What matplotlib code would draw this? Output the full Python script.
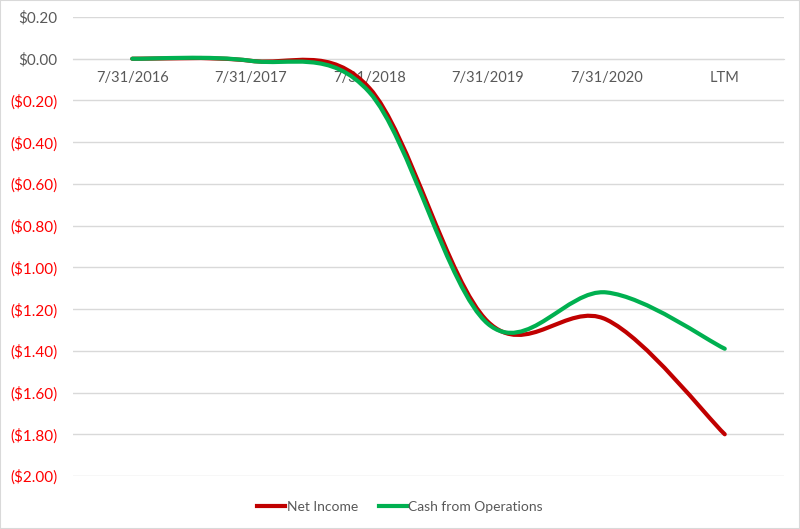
import matplotlib
matplotlib.use("Agg")
import matplotlib.pyplot as plt
from matplotlib.path import Path
from matplotlib.patches import PathPatch, Rectangle
from matplotlib.lines import Line2D
from matplotlib.ticker import FuncFormatter

plt.rcParams['font.family'] = ['Lato', 'DejaVu Sans']

periods = ["7/31/2016", "7/31/2017", "7/31/2018", "7/31/2019", "7/31/2020", "LTM"]
net_income = [0.00, -0.01, -0.14, -1.26, -1.25, -1.80]
cash_ops = [0.00, -0.01, -0.16, -1.27, -1.12, -1.39]
yticks = [0.2, 0.0, -0.2, -0.4, -0.6, -0.8, -1.0, -1.2, -1.4, -1.6, -1.8, -2.0]

RED = "#C00000"
GREEN = "#00B050"
TXT = "#595959"


def smooth_path(xs, ys):
    # Excel-like smoothed line: cubic bezier, tangents (P[i+1]-P[i-1])/6
    pts = list(zip(xs, ys))
    n = len(pts)
    verts = [pts[0]]
    codes = [Path.MOVETO]
    for i in range(n - 1):
        p0 = pts[max(i - 1, 0)]
        p1 = pts[i]
        p2 = pts[i + 1]
        p3 = pts[min(i + 2, n - 1)]
        c1 = (p1[0] + (p2[0] - p0[0]) / 6, p1[1] + (p2[1] - p0[1]) / 6)
        c2 = (p2[0] - (p3[0] - p1[0]) / 6, p2[1] - (p3[1] - p1[1]) / 6)
        verts += [c1, c2, p2]
        codes += [Path.CURVE4] * 3
    return Path(verts, codes)


def money(v, pos):
    if abs(v) < 1e-9:
        return "$0.00"
    if v < 0:
        return "(${:.2f})".format(-v)
    return "${:.2f}".format(v)


fig = plt.figure(figsize=(8, 5.29), dpi=100)
ax = fig.add_axes([73 / 800, 1 - 476 / 529, (784 - 73) / 800, (476 - 17) / 529])

x = list(range(len(periods)))
for vals, col in [(net_income, RED), (cash_ops, GREEN)]:
    ax.add_patch(PathPatch(smooth_path(x, vals), fill=False, edgecolor=col,
                           linewidth=3, capstyle='round', joinstyle='round', zorder=3))

ax.set_xlim(-0.5, len(periods) - 0.5)
ax.set_ylim(-2.0, 0.2)
ax.set_yticks(yticks)
ax.yaxis.set_major_formatter(FuncFormatter(money))
ax.grid(axis='y', color="#D9D9D9", linewidth=1)
ax.set_axisbelow(True)
for s in ['top', 'right', 'left']:
    ax.spines[s].set_visible(False)
ax.spines['bottom'].set_position(('data', 0))
ax.spines['bottom'].set_color("#D9D9D9")
ax.tick_params(axis='y', length=0, pad=11, labelsize=11)
ax.tick_params(axis='x', length=0, pad=9, labelsize=10.5, labelcolor=TXT)
ax.set_xticks(x)
ax.set_xticklabels(periods)
for t, v in zip(ax.get_yticklabels(), yticks):
    t.set_color("#FF0000" if v < -1e-9 else TXT)

handles = [Line2D([], [], color=RED, lw=3), Line2D([], [], color=GREEN, lw=3)]
fig.legend(handles, ["Net Income", "Cash from Operations"], loc='center',
           bbox_to_anchor=(0.5, 1 - 507 / 529), ncol=2, frameon=False,
           fontsize=10, labelcolor=TXT, handlelength=2.0, handletextpad=0.1,
           columnspacing=1.5)

fig.add_artist(Rectangle((0, 0), 1, 1, transform=fig.transFigure, fill=False,
                         edgecolor="#D9D9D9", linewidth=1.5))

fig.savefig("out.png", dpi=100)
